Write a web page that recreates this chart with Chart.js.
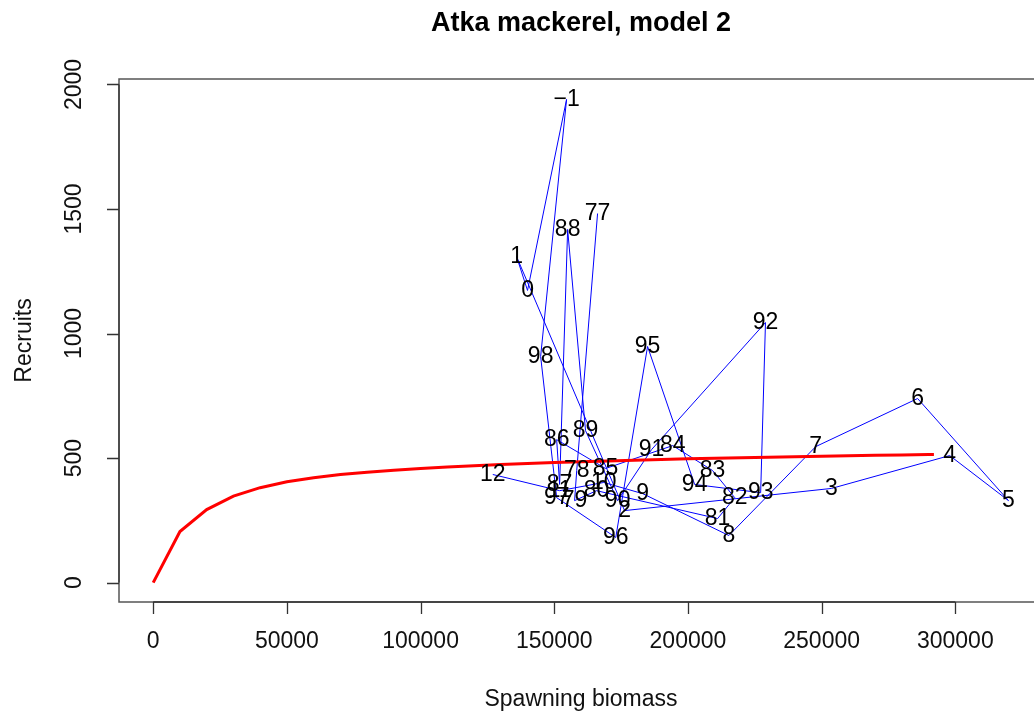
<!DOCTYPE html>
<html>
<head>
<meta charset="utf-8">
<script src="https://cdn.jsdelivr.net/npm/chart.js@4"></script>
<style>
  html, body { margin: 0; padding: 0; background: #fff; overflow: hidden; }
  #wrap { width: 1050px; height: 713px; }
</style>
</head>
<body>
<div id="wrap"><canvas id="srChart" width="1050" height="713"></canvas></div>
<script>
// year labels (77..98 = 1977..1998, then -1 = 1999, 0..12 = 2000..2012)
const yearLabels = ['77','78','79','80','81','82','83','84','85','86','87','88','89','90',
  '91','92','93','94','95','96','97','98','-1','0','1','2','3','4','5','6','7','8','9','10','11','12'];
const spawningBiomass = [166200, 158400, 157600, 165800, 211100, 217500, 209200, 194300, 169200,
  150900, 152000, 155000, 161700, 173700, 186400, 229000, 227200, 202500, 184900, 173000, 150900,
  144900, 154600, 140000, 135900, 176300, 253700, 297900, 319900, 285900, 247800, 215300, 183100,
  168500, 152000, 127000];
const recruits = [1482, 450, 329, 369, 257, 341, 450, 550, 458, 574, 394, 1418, 610, 329, 534, 1044,
  361, 394, 948, 181, 341, 908, 1940, 1173, 1309, 289, 378, 510, 329, 739, 546, 189, 357, 402, 369, 434];

// fitted stock-recruit curve
const curveBiomass = [0, 10000, 20000, 30000, 40000, 50000, 60000, 70000, 80000, 90000, 100000,
  110000, 120000, 130000, 140000, 150000, 160000, 170000, 180000, 190000, 200000, 210000, 220000,
  230000, 240000, 250000, 260000, 270000, 280000, 290000, 292000];
const curveRecruits = [0, 205, 293, 347, 381, 405, 421, 434, 443, 451, 458, 464, 469, 474, 478, 482,
  485, 488, 491, 494, 497, 499, 501, 503, 505, 507, 509, 511, 512, 514, 514];

const xTicks = [0, 50000, 100000, 150000, 200000, 250000, 300000];
const yTicks = [0, 500, 1000, 1500, 2000];

const FONT = '"Liberation Sans", Arial, Helvetica, sans-serif';

const rPlot = {
  id: 'rPlot',
  afterDatasetsDraw(chart) {
    const ctx = chart.ctx;
    const a = chart.chartArea;
    const xs = chart.scales.x, ys = chart.scales.y;
    ctx.save();

    // point labels
    const meta = chart.getDatasetMeta(1);
    ctx.fillStyle = '#000';
    ctx.font = '23px ' + FONT;
    ctx.textAlign = 'center';
    ctx.textBaseline = 'middle';
    meta.data.forEach((pt, i) => {
      ctx.fillText(yearLabels[i].replace('-', '\u2212'), pt.x, pt.y);
    });

    // box
    ctx.strokeStyle = '#555';
    ctx.lineWidth = 1.5;
    ctx.strokeRect(a.left, a.top, a.right - a.left, a.bottom - a.top);

    // x axis
    ctx.strokeStyle = '#333';
    ctx.lineWidth = 1.3;
    ctx.beginPath();
    ctx.moveTo(xs.getPixelForValue(xTicks[0]), a.bottom);
    ctx.lineTo(xs.getPixelForValue(xTicks[xTicks.length - 1]), a.bottom);
    xTicks.forEach(v => {
      const px = Math.round(xs.getPixelForValue(v)) + 0.5;
      ctx.moveTo(px, a.bottom);
      ctx.lineTo(px, a.bottom + 12);
    });
    ctx.stroke();
    ctx.fillStyle = '#111';
    ctx.font = '23px ' + FONT;
    xTicks.forEach(v => ctx.fillText(String(v), xs.getPixelForValue(v), a.bottom + 40));

    // y axis
    ctx.beginPath();
    ctx.moveTo(a.left, ys.getPixelForValue(yTicks[0]));
    ctx.lineTo(a.left, ys.getPixelForValue(yTicks[yTicks.length - 1]));
    yTicks.forEach(v => {
      const py = Math.round(ys.getPixelForValue(v)) + 0.5;
      ctx.moveTo(a.left, py);
      ctx.lineTo(a.left - 12, py);
    });
    ctx.stroke();
    yTicks.forEach(v => {
      ctx.save();
      ctx.translate(a.left - 44, ys.getPixelForValue(v));
      ctx.rotate(-Math.PI / 2);
      ctx.fillText(String(v), 0, 0);
      ctx.restore();
    });

    // titles
    const cx = (a.left + a.right) / 2;
    ctx.fillStyle = '#000';
    ctx.font = 'bold 27px ' + FONT;
    ctx.fillText('Atka mackerel, model 2', cx, 24);
    ctx.font = '23px ' + FONT;
    ctx.fillStyle = '#111';
    ctx.fillText('Spawning biomass', cx, 700);
    ctx.save();
    ctx.translate(25, (a.top + a.bottom) / 2);
    ctx.rotate(-Math.PI / 2);
    ctx.fillText('Recruits', 0, 0);
    ctx.restore();

    ctx.restore();
  }
};

const curvePoints = curveBiomass.map((s, i) => ({ x: s, y: curveRecruits[i] }));
const obsPoints = spawningBiomass.map((s, i) => ({ x: s, y: recruits[i] }));

new Chart(document.getElementById('srChart'), {
  type: 'line',
  data: {
    datasets: [{
      label: 'Fitted curve',
      data: curvePoints,
      borderColor: '#ff0000',
      borderWidth: 3,
      pointRadius: 0,
      tension: 0,
      fill: false,
      order: 1
    }, {
      label: 'Observed',
      data: obsPoints,
      borderColor: '#0000ff',
      borderWidth: 1,
      pointRadius: 0,
      tension: 0,
      fill: false,
      order: 2
    }]
  },
  options: {
    responsive: false,
    animation: false,
    devicePixelRatio: 1,
    layout: { padding: { left: 119, top: 79, right: 7, bottom: 111 } },
    plugins: { legend: { display: false }, tooltip: { enabled: false } },
    scales: {
      x: { type: 'linear', min: -12800, max: 332800, display: false },
      y: { type: 'linear', min: -78, max: 2022, display: false }
    }
  },
  plugins: [rPlot]
});
</script>
</body>
</html>
